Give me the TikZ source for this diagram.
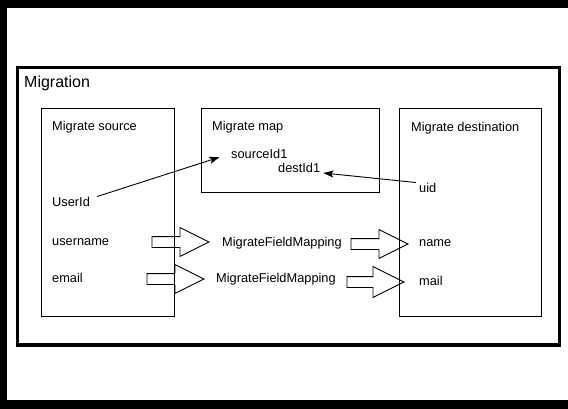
\documentclass[tikz,border=0pt]{standalone}
\usepackage{fontspec}
\setmainfont{Liberation Sans}
\definecolor{inkblack}{HTML}{000000}
\definecolor{paperwhite}{HTML}{FFFFFF}
\usetikzlibrary{shapes.arrows, arrows.meta, positioning}
\tikzstyle{box} = [rectangle, draw=inkblack, line width=1pt, anchor=north west, inner sep=0pt]
\tikzstyle{link} = [-{Stealth[length=10pt, width=7pt, inset=2pt]}, line width=0.9pt, color=inkblack]

\begin{document}
\begin{tikzpicture}[
    x=1pt, y=-1pt,
    fieldtxt/.style={anchor=base west, inner sep=3pt, font=\fontsize{12.8}{15}\selectfont},
    mapfat/.style={single arrow, anchor=tip, draw=inkblack, line width=0.9pt, minimum height=57pt, inner sep=5pt,
      single arrow head extend=9pt, single arrow tip angle=53, single arrow head indent=0pt}
  ]
    % Frame and canvas
    \useasboundingbox (0,0) rectangle (568,409);
    \fill[inkblack] (0,0) rectangle (568,409);
    \fill[paperwhite] (7,8) rectangle (568,400);

    % Containers
    \node[box, line width=3.5pt, minimum width=542pt, minimum height=277pt] (migbox) at (15.5,66) {};
    \node[fieldtxt, font=\fontsize{16}{20}\selectfont] (migtitle) at (21,88) {Migration};
    \node[box, minimum width=133pt, minimum height=207pt] (srcbox) at (40.5,108.5) {};
    \node[box, minimum width=178pt, minimum height=84pt] (mapbox) at (200.5,108.5) {};
    \node[box, minimum width=142pt, minimum height=207pt] (dstbox) at (398.5,108.5) {};

    % Source fields
    \node[fieldtxt] (srctitle) at (49,131) {Migrate source};
    \node[fieldtxt] (userid) at (49,207) {UserId};
    \node[fieldtxt] (username) at (49,245) {username};
    \node[fieldtxt] (email) at (49,282) {email};

    % Map entries
    \node[fieldtxt] (maptitle) at (209,131) {Migrate map};
    \node[fieldtxt] (srcid) at (228,159) {sourceId1};
    \node[fieldtxt] (destid) at (275,173) {destId1};

    % Destination fields
    \node[fieldtxt] (dsttitle) at (408,132) {Migrate destination};
    \node[fieldtxt] (uid) at (416,193) {uid};
    \node[fieldtxt] (name) at (416,247) {name};
    \node[fieldtxt] (mail) at (416,285) {mail};

    % Field mappings (placed by their tips)
    \node[fieldtxt] (fmap1) at (219,246) {MigrateFieldMapping};
    \node[fieldtxt] (fmap2) at (213,282) {MigrateFieldMapping};
    \node[mapfat] (fat1) at (210,242) {};
    \node[mapfat] (fat2) at (409,244) {};
    \node[mapfat] (fat3) at (205,279) {};
    \node[mapfat, single arrow head extend=10pt] (fat4) at (405,282) {};

    % Id links
    \draw[link, shorten >=9pt] ([xshift=4pt, yshift=-2pt]userid.north east) -- (srcid.west);
    \draw[link] ([yshift=-2pt]uid.north west) -- (destid.base east);
  \end{tikzpicture}
\end{document}
